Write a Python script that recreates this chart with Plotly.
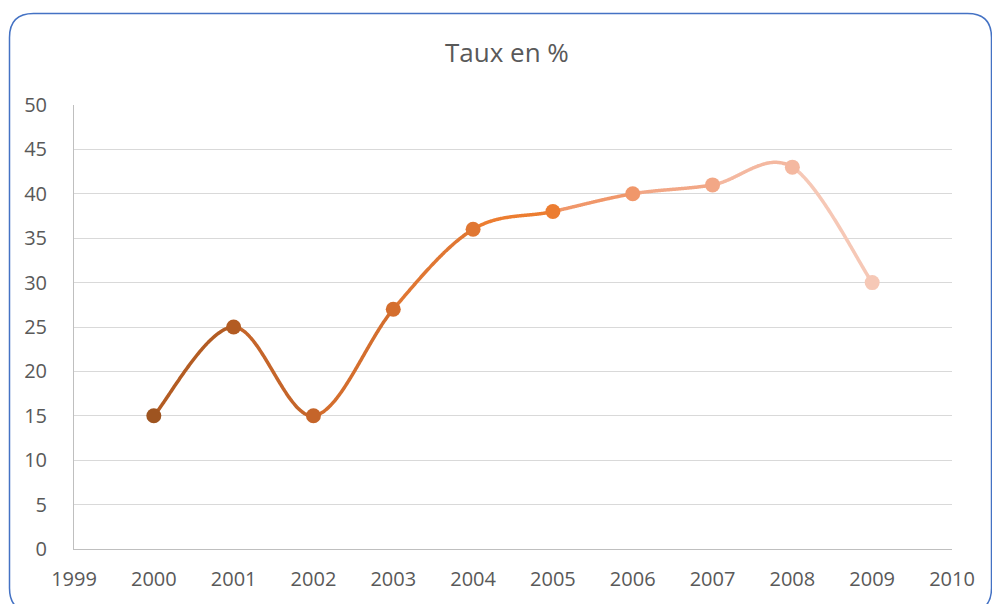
import numpy as np
import plotly.graph_objects as go

# ---- data ----
years = [2000, 2001, 2002, 2003, 2004, 2005, 2006, 2007, 2008, 2009]
rates = [15, 25, 15, 27, 36, 38, 40, 41, 43, 30]
point_colors = ["#9E5420", "#B35C23", "#C5652A", "#D46E2E", "#E07733",
                "#EC7D31", "#F0976A", "#F2A786", "#F4B8A0", "#F6C8B6"]
y_ticks = list(range(0, 55, 5))
x_ticks = list(range(1999, 2011))
title_text = "Taux en %"

W, H = 992, 604
ML, MR, MT, MB = 74, 40, 105, 55

fig = go.Figure()

# smooth (Catmull-Rom style, like Excel's smoothed line) segments coloured per point
pts = np.column_stack([years, rates]).astype(float)
n = len(pts)
t = np.linspace(0, 1, 60)[:, None]
for i in range(n - 1):
    p0 = pts[max(i - 1, 0)]
    p1 = pts[i]
    p2 = pts[i + 1]
    p3 = pts[min(i + 2, n - 1)]
    c1 = p1 + (p2 - p0) / 6
    c2 = p2 - (p3 - p1) / 6
    curve = ((1 - t) ** 3) * p1 + 3 * ((1 - t) ** 2) * t * c1 + 3 * (1 - t) * t ** 2 * c2 + t ** 3 * p2
    fig.add_trace(go.Scatter(
        x=curve[:, 0], y=curve[:, 1], mode="lines",
        line=dict(color=point_colors[i + 1], width=3.5, shape="spline", smoothing=0.5),
        hoverinfo="skip", showlegend=False))

fig.add_trace(go.Scatter(
    x=years, y=rates, mode="markers",
    marker=dict(color=point_colors, size=15, line=dict(width=0)),
    showlegend=False, name="Taux"))

def px(x):
    return (x - ML) / (W - ML - MR)

def py(y):
    return (H - MB - y) / (H - MT - MB)

# rounded chart border
x0, y0, x1, y1, r = 9.5, 13.5, 991.5, 612, 24
path = (f"M {px(x0 + r)},{py(y0)} L {px(x1 - r)},{py(y0)} "
        f"Q {px(x1)},{py(y0)} {px(x1)},{py(y0 + r)} "
        f"L {px(x1)},{py(y1 - r)} Q {px(x1)},{py(y1)} {px(x1 - r)},{py(y1)} "
        f"L {px(x0 + r)},{py(y1)} Q {px(x0)},{py(y1)} {px(x0)},{py(y1 - r)} "
        f"L {px(x0)},{py(y0 + r)} Q {px(x0)},{py(y0)} {px(x0 + r)},{py(y0)} Z")
fig.add_shape(type="path", path=path, xref="paper", yref="paper",
              line=dict(color="#4472C4", width=1.5), layer="above")

font_family = "Open Sans, Liberation Sans, sans-serif"
fig.update_layout(
    width=W, height=H,
    margin=dict(l=ML, r=MR, t=MT, b=MB, pad=0),
    paper_bgcolor="white", plot_bgcolor="white",
    font=dict(family=font_family, color="#595959", size=20),
    title=dict(text=title_text, x=0.511, xanchor="center", y=1 - 53 / H,
               yanchor="middle", font=dict(size=26, color="#595959")),
    xaxis=dict(range=[1999, 2010], tickvals=x_ticks, showgrid=False,
               showline=True, linecolor="#BFBFBF", linewidth=1, zeroline=False,
               ticks="", ticklabelstandoff=12, tickfont=dict(size=20)),
    yaxis=dict(range=[0, 50], tickvals=y_ticks, showgrid=True,
               gridcolor="#D9D9D9", gridwidth=1, showline=True,
               linecolor="#BFBFBF", linewidth=1, zeroline=False,
               ticks="", ticklabelstandoff=22, tickfont=dict(size=20)),
)

fig.write_html(
    "out.html",
    config={"displayModeBar": False},
    post_script="document.body.style.margin='0px';document.documentElement.style.overflow='hidden';document.body.style.overflow='hidden';",
)
